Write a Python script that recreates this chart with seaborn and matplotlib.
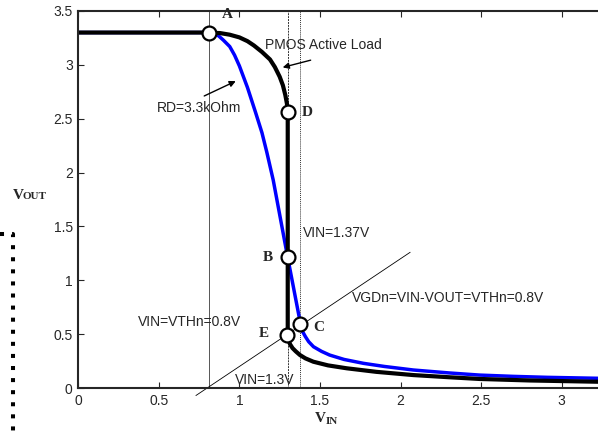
import seaborn as sns
import matplotlib.pyplot as plt
import pandas as pd
from matplotlib.lines import Line2D

# данные
pmos_vin = [0, 0.81, 0.88, 0.94, 1.0, 1.05, 1.09, 1.14, 1.19, 1.22, 1.25, 1.27, 1.285, 1.295, 1.30,
            1.30, 1.305, 1.315, 1.33, 1.35, 1.376, 1.41, 1.459, 1.55, 1.666, 1.85, 2.08, 2.3, 2.49, 2.8, 3.23]
pmos_vout = [3.3, 3.3, 3.295, 3.28, 3.255, 3.22, 3.18, 3.12, 3.05, 2.98, 2.89, 2.81, 2.72, 2.64, 2.56,
             0.48, 0.44, 0.405, 0.37, 0.34, 0.306, 0.275, 0.244, 0.21, 0.183, 0.15, 0.12, 0.10, 0.084, 0.07, 0.058]

rd_vin = [0, 0.81, 0.84, 0.87, 0.90, 0.94, 0.97, 1.00, 1.05, 1.10, 1.14, 1.17, 1.21, 1.30, 1.38,
          1.39, 1.41, 1.43, 1.46, 1.51, 1.56, 1.65, 1.77, 1.9, 2.08, 2.3, 2.49, 2.7, 2.91, 3.23]
rd_vout = [3.3, 3.3, 3.295, 3.27, 3.23, 3.17, 3.09, 2.99, 2.79, 2.56, 2.37, 2.19, 1.93, 1.21, 0.59,
           0.53, 0.476, 0.43, 0.383, 0.34, 0.306, 0.265, 0.229, 0.20, 0.167, 0.14, 0.12, 0.108, 0.099, 0.09]

point_names = ['A', 'D', 'B', 'E', 'C']
point_vin = [0.81, 1.30, 1.30, 1.295, 1.376]
point_vout = [3.30, 2.565, 1.213, 0.492, 0.594]
letter_x = [0.926, 1.423, 1.174, 1.153, 1.494]
letter_y = [3.468, 2.558, 1.212, 0.508, 0.562]

diag_vin = [0.73, 2.06]
diag_vout = [-0.07, 1.26]

pmos = pd.DataFrame({'vin': pmos_vin, 'vout': pmos_vout})
rd = pd.DataFrame({'vin': rd_vin, 'vout': rd_vout})
pts = pd.DataFrame({'vin': point_vin, 'vout': point_vout})

sns.set_style('ticks')
plt.rcParams['font.family'] = ['Liberation Sans', 'DejaVu Sans']

fig = plt.figure(figsize=(5.98, 4.33), dpi=100)
ax = fig.add_axes([78.3 / 598, 45 / 433, 1 - 78.3 / 598, 377 / 433])

# вспомогательные вертикали и диагональ
ax.axvline(0.81, color='#555555', lw=0.7)
ax.axvline(1.30, color='#333333', lw=0.7, ls=(0, (2, 1)))
ax.axvline(1.375, color='#333333', lw=0.7, ls=(0, (1, 1)))
ax.plot(diag_vin, diag_vout, color='black', lw=0.6, clip_on=False)

# кривые
sns.lineplot(data=rd, x='vin', y='vout', sort=False, estimator=None, color='#0000ff', lw=2.5,
             solid_joinstyle='round', ax=ax)
sns.lineplot(data=pmos, x='vin', y='vout', sort=False, estimator=None, color='black', lw=3,
             solid_joinstyle='round', ax=ax)
sns.scatterplot(data=pts, x='vin', y='vout', s=100, color='white', edgecolor='black', linewidth=1.6, zorder=5, ax=ax)

for name, x, y in zip(point_names, letter_x, letter_y):
    ax.text(x, y, name, family='Liberation Serif', weight='bold', fontsize=11, ha='center', va='center')

# подписи
ax.text(1.159, 3.185, 'PMOS Active Load', fontsize=10, va='center')
ax.text(0.489, 2.60, 'RD=3.3kOhm', fontsize=10, va='center')
ax.text(1.393, 1.436, 'VIN=1.37V', fontsize=10, va='center')
ax.text(1.697, 0.833, 'VGDn=VIN-VOUT=VTHn=0.8V', fontsize=10, va='center')
ax.text(0.372, 0.616, 'VIN=VTHn=0.8V', fontsize=10, va='center')
ax.text(0.973, 0.074, 'VIN=1.3V', fontsize=10, va='center')

arr = dict(arrowstyle='-|>', color='black', lw=1, mutation_scale=9)
ax.annotate('', xy=(1.252, 2.97), xytext=(1.459, 3.05), arrowprops=arr)
ax.annotate('', xy=(0.993, 2.86), xytext=(0.766, 2.70), arrowprops=arr)

ax.set_xlim(0, (598 - 78.3) / 161.1)
ax.set_ylim(0, 3.5)
ax.set_xticks([0, 0.5, 1, 1.5, 2, 2.5, 3])
ax.set_xticklabels(['0', '0.5', '1', '1.5', '2', '2.5', '3'])
ax.set_yticks([0, 0.5, 1, 1.5, 2, 2.5, 3, 3.5])
ax.set_yticklabels(['0', '0.5', '1', '1.5', '2', '2.5', '3', '3.5'])
ax.set_xlabel('')
ax.set_ylabel('')
ax.tick_params(direction='in', length=4, width=0.8, labelsize=10, top=True, right=False, pad=4)
ax.spines['right'].set_visible(False)
for s in ['left', 'bottom', 'top']:
    ax.spines[s].set_linewidth(1.5)

# подписи осей
serif = dict(family='Liberation Serif', weight='bold', va='baseline')
fig.text(12.7 / 598, 1 - 199 / 433, 'V', fontsize=11, **serif)
fig.text(22.7 / 598, 1 - 199 / 433, 'OUT', fontsize=8, **serif)
fig.text(315 / 598, 1 - 422 / 433, 'V', fontsize=11, **serif)
fig.text(325.5 / 598, 1 - 424 / 433, 'IN', fontsize=8, **serif)

# пунктирная рамка слева (кусок соседней схемы)
fig.add_artist(Line2D([0, 13 / 598, 13 / 598], [1 - 234 / 433, 1 - 234 / 433, 0],
                      transform=fig.transFigure, color='black', lw=2.9,
                      ls=(0, (1, 2)), solid_capstyle='butt', dash_capstyle='butt'))

fig.savefig('out.png', dpi=100)
